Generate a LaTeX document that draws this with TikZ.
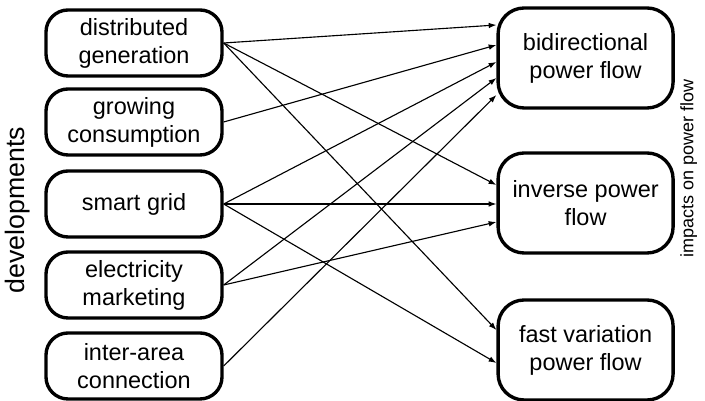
\documentclass[tikz,border=0pt]{standalone}
\usepackage{fontspec}
\setmainfont{Liberation Sans}
\usetikzlibrary{arrows.meta}

\begin{document}
\begin{tikzpicture}[line width=0.8pt,>={Latex[length=5.5pt,width=4pt]},
devblock/.style={draw,rectangle,rounded corners=0.55cm,align=center,minimum width=4.4cm,minimum height=1.65cm,line width=2.4pt,font=\fontsize{16.7}{19.9}\selectfont},
impactblock/.style={draw,rectangle,rounded corners=0.65cm,align=center,minimum width=4.375cm,minimum height=2.5cm,line width=2.4pt,font=\fontsize{16.7}{19.9}\selectfont},
sidelabel/.style={rotate=90,inner sep=0pt}]
\useasboundingbox (0,0) rectangle (17.625,10.025);

\draw (3.35,8.95) node[devblock] (DG) {distributed\\generation};
\draw (3.35,6.975) node[devblock] (GC) {growing\\consumption};
\draw (3.35,4.925) node[devblock] (SG) {smart grid};
\draw (3.35,2.9) node[devblock] (EM) {electricity\\marketing};
\draw (3.35,0.875) node[devblock] (IA) {inter-area\\connection};
\draw (14.64,8.575) node[impactblock] (BPF) {bidirectional\\power flow};
\draw (14.64,4.95) node[impactblock] (IPF) {inverse power\\flow};
\draw (14.64,1.275) node[impactblock] (FVF) {fast variation\\power flow};

\draw (0.45,4.775) node[sidelabel,font=\fontsize{19}{22}\selectfont] (dev) {developments};
\draw (17.22,5.825) node[sidelabel,font=\fontsize{12.8}{15}\selectfont] (imp) {impacts on power flow};

\draw[->] (DG.east) -- ([yshift=0.825cm]BPF.west);
\draw[->] (GC.east) -- ([yshift=0.325cm]BPF.west);
\draw[->] (SG.east) -- ([yshift=-0.1cm]BPF.west);
\draw[->] (EM.east) -- ([yshift=-0.5cm]BPF.west);
\draw[->] (IA.east) -- ([yshift=-0.925cm]BPF.west);
\draw[->] (DG.east) -- ([yshift=0.45cm]IPF.west);
\draw[->] (SG.east) -- (SG.east -| IPF.west);
\draw[->] (EM.east) -- ([yshift=-0.475cm]IPF.west);
\draw[->] (DG.east) -- ([yshift=0.5cm]FVF.west);
\draw[->] (SG.east) -- ([yshift=-0.325cm]FVF.west);
\end{tikzpicture}
\end{document}
